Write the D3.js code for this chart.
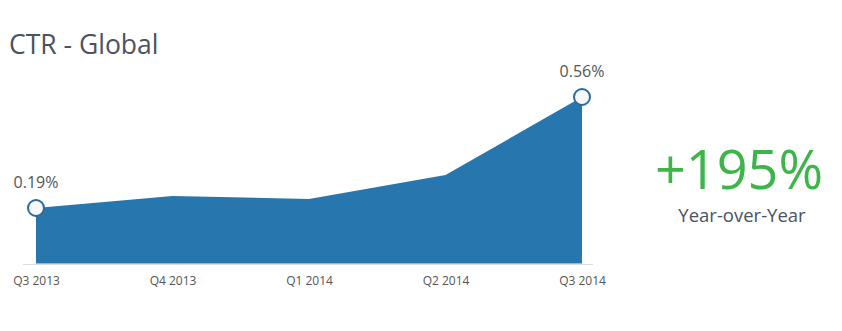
<!DOCTYPE html>
<html><head><meta charset="utf-8">
<script src="https://cdn.jsdelivr.net/npm/d3@7"></script>
<style>body{margin:0;background:#fff;}svg{display:block;font-family:"Open Sans",sans-serif;}</style>
</head><body>
<svg id="c" width="842" height="331"></svg>
<script>
const categories = ["Q3 2013","Q4 2013","Q1 2014","Q2 2014","Q3 2014"];
const ctrValues = [0.19, 0.23, 0.22, 0.30, 0.56];
const labelledIdx = [0, 4];
const yoyText = "+195%";
const yoySub = "Year-over-Year";
const title = "CTR - Global";

const svg = d3.select("#c");
const x = d3.scalePoint().domain(categories).range([36, 582]);
const y = d3.scaleLinear().domain([0, 0.56]).range([265, 97]);

svg.append("text").attr("x", 9).attr("y", 54).attr("font-size", 26.5).attr("fill", "#4b5260").text(title);

svg.append("line").attr("x1", 23).attr("x2", 593).attr("y1", 264.5).attr("y2", 264.5)
  .attr("stroke", "#dcdcdc").attr("stroke-width", 1);

const area = d3.area().x((d,i)=>x(categories[i])).y0(y(0)-1.5).y1(d=>y(d));
svg.append("path").datum(ctrValues).attr("d", area).attr("fill", "#2776ad");

const xAxis = d3.axisBottom(x).tickSize(0).tickPadding(0);
const ax = svg.append("g").attr("transform", "translate(0,276)").call(xAxis);
ax.select(".domain").remove();
ax.selectAll("text").attr("font-size", 12).attr("fill", "#555").attr("font-family", "Open Sans");

labelledIdx.forEach(i => {
  const cx = x(categories[i]), cy = y(ctrValues[i]);
  svg.append("circle").attr("cx", cx).attr("cy", cy).attr("r", 8)
    .attr("fill", "#f7f7f7").attr("stroke", "#2a6a9c").attr("stroke-width", 2);
  svg.append("text").attr("x", cx).attr("y", cy - 20).attr("text-anchor", "middle")
    .attr("font-size", 16).attr("fill", "#555").text(d3.format(".2f")(ctrValues[i]) + "%");
});

svg.append("text").attr("x", 739).attr("y", 189).attr("text-anchor", "middle")
  .attr("font-size", 54).attr("fill", "#3db54a").text(yoyText);
svg.append("text").attr("x", 742).attr("y", 222).attr("text-anchor", "middle")
  .attr("font-size", 18.5).attr("fill", "#4b5260").text(yoySub);
</script>
</body></html>
